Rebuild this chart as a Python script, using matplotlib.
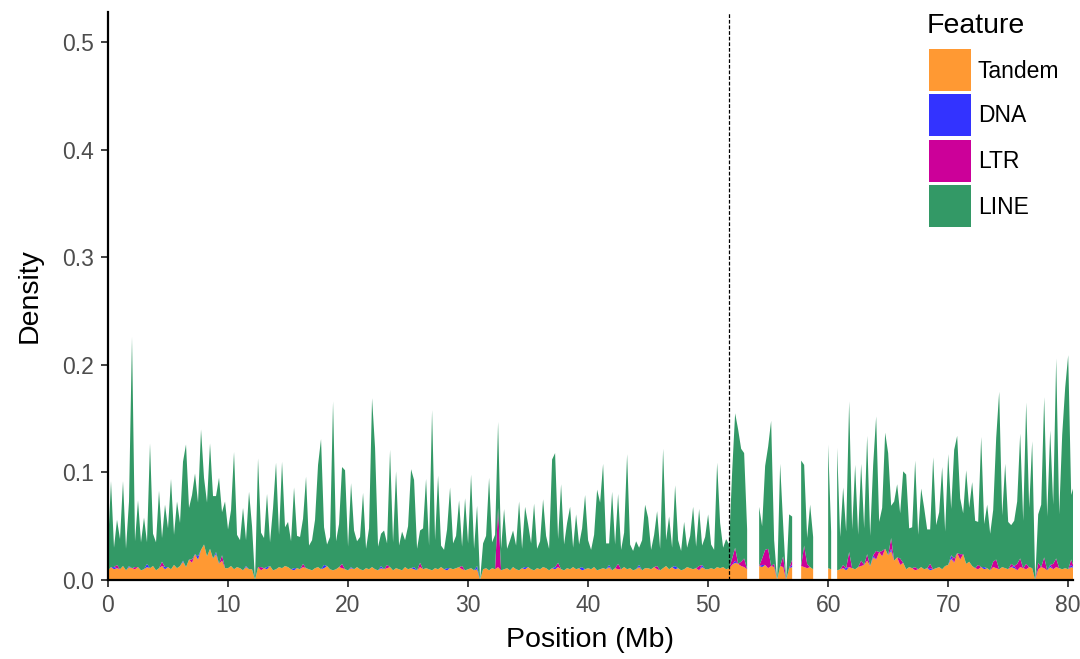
import numpy as np
import matplotlib
matplotlib.use("Agg")
import matplotlib.pyplot as plt
from matplotlib.patches import Rectangle

nan = np.nan

# window size along the chromosome (Mb) and centromere position
bin_mb = 0.25
centromere = 51.7

features = ["Tandem", "DNA", "LTR", "LINE"]
colors = {"Tandem": "#FF9933", "DNA": "#3333FF", "LTR": "#CC0099", "LINE": "#339966"}

# densities per window, in units of 1e-3 (stacked bottom -> top: Tandem, DNA, LTR, LINE)
tandem = [
    9, 12, 10, 11, 10, 13, 9, 12, 11, 10, 12, 9, 10, 12, 11, 13, 9, 11, 13, 10, 12, 10, 14, 11, 13, 17, 12, 19, 16, 24, 19, 28,
    33, 22, 29, 20, 24, 15, 18, 11, 11, 13, 10, 12, 11, 9, 12, 10, 10, 0, 12, 9, 11, 10, 13, 9, 10, 12, 11, 13, 12, 10, 9, 11,
    10, 12, 11, 10, 9, 11, 12, 10, 11, 13, 10, 9, 10, 12, 11, 10, 9, 11, 10, 12, 10, 9, 11, 10, 12, 10, 9, 11, 10, 11, 12, 9,
    11, 10, 9, 12, 10, 11, 10, 9, 12, 10, 11, 10, 9, 11, 10, 12, 10, 9, 11, 10, 11, 12, 10, 9, 10, 11, 9, 10, 0, 10, 11, 9,
    11, 10, 12, 9, 10, 11, 9, 12, 10, 9, 11, 10, 12, 10, 9, 11, 10, 12, 11, 9, 11, 10, 12, 10, 9, 11, 10, 12, 10, 11, 9, 10,
    11, 10, 12, 9, 10, 11, 10, 12, 9, 11, 10, 10, 12, 10, 11, 9, 10, 12, 9, 11, 11, 10, 12, 10, 9, 11, 13, 10, 12, 10, 11, 9,
    10, 12, 11, 10, 11, 9, 12, 10, 10, 11, 10, 12, 11, 12, 10, 11, 14, 16, 15, 13, 12, 10, nan, nan, nan, 13, 12, 14, 11, 13, 12, 0,
    13, 12, 0, 11, 12, nan, nan, 13, 12, 11, 12, 10, nan, nan, nan, nan, 11, 10, nan, 9, 10, 11, 9, 12, 11, 10, 12, 13, 14, 18, 13, 21,
    19, 26, 22, 29, 23, 27, 18, 21, 14, 16, 10, 12, 11, 9, 10, 12, 10, 11, 9, 10, 11, 12, 10, 13, 14, 20, 16, 25, 19, 24, 15, 17,
    13, 11, 10, 12, 10, 11, 9, 12, 11, 10, 12, 11, 10, 12, 11, 9, 12, 11, 10, 12, 11, 0, 10, 12, 11, 9, 12, 10, 12, 11, 10, 11,
    10, 12, 11, 10,
]
dna = [
    0, 0, 2, 0, 0, 0, 0, 1, 0, 0, 0, 0, 0, 3, 0, 0, 0, 0, 0, 2, 0, 0, 0, 0, 0, 1, 0, 0, 0, 0, 3, 0,
    0, 0, 0, 0, 2, 0, 0, 0, 0, 0, 0, 0, 0, 0, 1, 0, 0, 0, 0, 0, 0, 2, 0, 0, 0, 0, 0, 0, 0, 0, 2, 0,
    0, 0, 0, 0, 0, 0, 0, 0, 3, 0, 0, 0, 0, 0, 0, 0, 0, 1, 0, 0, 0, 0, 0, 0, 0, 0, 0, 2, 0, 0, 0, 0,
    0, 0, 0, 0, 0, 0, 2, 0, 0, 0, 0, 0, 0, 0, 0, 0, 0, 2, 0, 0, 0, 0, 0, 0, 0, 0, 0, 3, 0, 0, 0, 0,
    0, 0, 0, 0, 0, 0, 0, 0, 0, 0, 0, 2, 0, 0, 0, 0, 0, 0, 0, 0, 0, 2, 0, 0, 0, 0, 0, 0, 0, 0, 3, 0,
    0, 0, 0, 0, 0, 0, 0, 2, 0, 0, 0, 0, 0, 0, 0, 0, 0, 2, 0, 0, 0, 0, 0, 0, 0, 0, 0, 0, 0, 3, 0, 0,
    0, 0, 0, 0, 0, 0, 2, 0, 0, 0, 0, 0, 0, 0, 0, 0, 0, 2, 0, 0, 0, 0, 0, 0, 0, 0, 2, 0, 0, 0, 0, 0,
    0, 0, 0, 0, 2, 0, 0, 0, 0, 0, 0, 0, 0, 0, 0, 0, 0, 0, 0, 0, 0, 0, 2, 0, 0, 0, 0, 0, 0, 0, 0, 2,
    0, 0, 0, 0, 0, 2, 0, 0, 0, 0, 0, 0, 0, 0, 0, 0, 0, 0, 2, 0, 0, 0, 0, 0, 0, 3, 0, 0, 0, 0, 0, 0,
    0, 0, 0, 0, 2, 0, 0, 0, 0, 0, 0, 0, 0, 0, 2, 0, 0, 0, 0, 0, 0, 0, 0, 0, 0, 0, 2, 0, 0, 0, 0, 0,
    0, 2, 0, 0,
]
ltr = [
    0, 0, 0, 3, 0, 0, 0, 0, 0, 2, 0, 0, 0, 0, 0, 0, 0, 0, 4, 0, 0, 0, 0, 0, 0, 0, 0, 0, 3, 0, 0, 0,
    0, 0, 0, 0, 0, 0, 5, 0, 0, 0, 0, 0, 0, 0, 0, 0, 0, 0, 0, 3, 0, 0, 0, 0, 0, 0, 0, 0, 0, 0, 0, 0,
    0, 3, 0, 0, 0, 0, 0, 0, 0, 0, 0, 0, 0, 0, 4, 0, 0, 0, 0, 0, 0, 0, 0, 0, 0, 0, 0, 0, 0, 3, 0, 0,
    0, 0, 0, 0, 0, 0, 0, 0, 4, 0, 0, 0, 0, 0, 0, 0, 0, 0, 0, 0, 0, 0, 3, 0, 0, 0, 0, 0, 0, 0, 0, 0,
    0, 0, 55, 0, 0, 0, 0, 0, 0, 0, 0, 0, 0, 0, 0, 0, 0, 0, 0, 0, 0, 0, 4, 0, 0, 0, 0, 0, 0, 0, 0, 0,
    0, 0, 0, 0, 0, 0, 0, 0, 0, 0, 5, 0, 0, 0, 0, 0, 0, 0, 0, 0, 0, 0, 0, 3, 0, 0, 0, 0, 0, 0, 0, 0,
    0, 0, 0, 0, 0, 4, 0, 0, 0, 0, 0, 0, 0, 0, 0, 0, 6, 12, 0, 4, 8, 0, nan, nan, nan, 0, 6, 14, 18, 0, 3, 0,
    0, 10, 0, 0, 5, nan, nan, 0, 20, 4, 0, 0, nan, nan, nan, nan, 0, 0, nan, 0, 0, 3, 0, 14, 0, 0, 0, 5, 0, 6, 0, 0,
    8, 0, 5, 0, 0, 10, 0, 0, 6, 0, 0, 0, 0, 3, 0, 0, 0, 0, 4, 0, 0, 0, 0, 0, 0, 0, 4, 0, 5, 0, 0, 0,
    0, 0, 4, 0, 0, 0, 0, 5, 8, 0, 0, 0, 0, 3, 0, 6, 8, 0, 5, 0, 0, 0, 6, 0, 10, 0, 0, 5, 8, 0, 0, 0,
    0, 5, 0, 0,
]
line = [
    22, 80, 18, 42, 28, 79, 20, 60, 215, 24, 62, 26, 48, 20, 116, 30, 26, 72, 22, 58, 36, 84, 28, 62, 40, 92, 114, 48, 60, 75, 50, 112,
    62, 50, 98, 58, 52, 80, 40, 62, 36, 52, 109, 30, 26, 58, 24, 72, 40, 0, 101, 32, 28, 68, 22, 58, 99, 30, 99, 36, 42, 26, 75, 30,
    30, 42, 85, 22, 28, 45, 95, 121, 35, 20, 30, 157, 26, 40, 90, 92, 22, 78, 36, 24, 30, 72, 18, 38, 157, 113, 22, 30, 36, 20, 109, 26,
    90, 22, 36, 25, 40, 92, 81, 20, 30, 38, 83, 22, 149, 26, 87, 20, 18, 36, 75, 24, 30, 62, 18, 67, 24, 87, 20, 56, 0, 24, 30, 86,
    24, 32, 80, 20, 56, 18, 28, 34, 22, 64, 18, 56, 40, 24, 62, 18, 26, 63, 30, 20, 101, 106, 22, 79, 24, 42, 58, 18, 51, 22, 36, 69,
    26, 18, 30, 75, 62, 97, 24, 20, 73, 22, 65, 18, 32, 107, 22, 18, 26, 16, 28, 59, 47, 18, 30, 51, 20, 111, 24, 49, 18, 75, 26, 18,
    44, 18, 30, 58, 20, 53, 18, 30, 51, 22, 18, 97, 42, 18, 28, 22, 80, 125, 125, 105, 98, 37, nan, nan, nan, 55, 30, 78, 95, 135, 22, 0,
    95, 30, 0, 50, 40, nan, nan, 98, 75, 24, 58, 30, nan, nan, nan, nan, 115, 35, nan, 114, 30, 72, 34, 140, 36, 97, 30, 90, 34, 110, 28, 84,
    125, 28, 40, 108, 95, 30, 55, 68, 42, 85, 88, 36, 38, 99, 32, 73, 57, 36, 32, 104, 40, 51, 95, 32, 103, 43, 101, 109, 52, 38, 87, 50,
    78, 44, 40, 121, 40, 59, 34, 48, 113, 165, 48, 97, 44, 36, 42, 58, 116, 44, 150, 55, 118, 0, 45, 58, 149, 50, 125, 55, 186, 50, 125, 168,
    199, 60, 78, 58,
]

x_ticks = [0, 10, 20, 30, 40, 50, 60, 70, 80]
y_ticks = [0.0, 0.1, 0.2, 0.3, 0.4, 0.5]

plt.rcParams["font.family"] = ["Liberation Sans", "DejaVu Sans"]

W, H = 1080, 659
fig = plt.figure(figsize=(W / 100, H / 100), dpi=100)
ax = fig.add_axes([108 / W, 79 / H, (1073 - 108) / W, (580 - 12) / H])

series = [np.array(v, dtype=float) / 1000 for v in (tandem, dna, ltr, line)]
missing = np.isnan(series[3])
empty = series[3] == 0
for s in series:
    s[missing] = nan
    s[empty] = 0

pos = np.arange(len(series[3])) * bin_mb
base = np.zeros_like(pos)
for name, s in zip(features, series):
    top = base + s
    ax.fill_between(pos, base, top, color=colors[name], lw=0)
    base = top

ax.axvline(centromere, color="black", lw=0.9, ls=(0, (3, 1.5)))

ax.set_xlim(0, 80.4)
ax.set_ylim(0, 0.528)
ax.set_xticks(x_ticks)
ax.set_yticks(y_ticks)
ax.set_yticklabels([f"{v:.1f}" for v in y_ticks])
for side in ("top", "right"):
    ax.spines[side].set_visible(False)
for side in ("left", "bottom"):
    ax.spines[side].set_linewidth(1.6)
    ax.spines[side].set_color("black")
ax.tick_params(direction="out", length=5, width=1.3, color="#333333",
               labelcolor="#4D4D4D", labelsize=16.5, pad=5)
ax.set_xlabel("Position (Mb)", fontsize=20.5, labelpad=7)
ax.set_ylabel("Density", fontsize=20.5, labelpad=14)

# legend drawn in figure pixel coordinates
def fx(px):
    return px / W

def fy(py):
    return 1 - py / H

fig.text(fx(927), fy(26), "Feature", fontsize=20.5, va="center", ha="left")
key_tops = [49, 94, 140, 185]
for name, top_px in zip(features, key_tops):
    fig.patches.append(Rectangle((fx(929), fy(top_px + 42)), 42 / W, 42 / H,
                                 transform=fig.transFigure, color=colors[name], lw=0))
    fig.text(fx(978), fy(top_px + 22), name, fontsize=16.5, va="center", ha="left")

fig.savefig("out.png", dpi=100)
